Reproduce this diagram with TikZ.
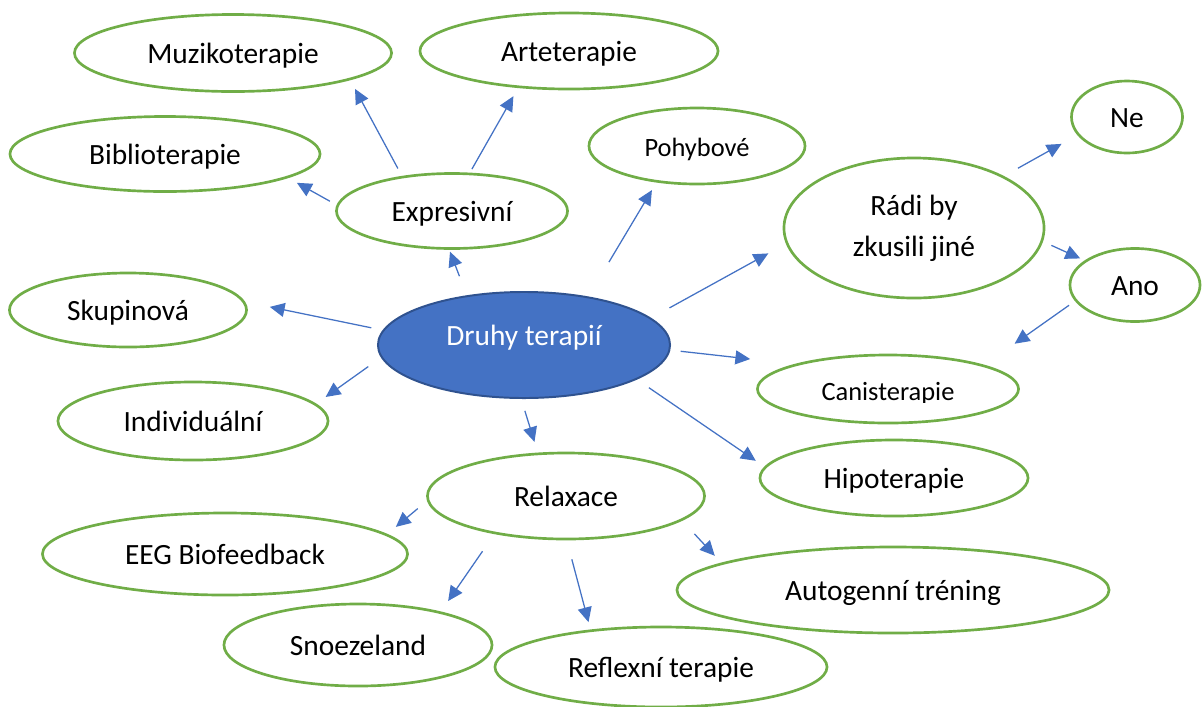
\documentclass[tikz,border=0pt]{standalone}
\usepackage{fontspec}
\setmainfont{Carlito}
\usepackage{tikz}
\usetikzlibrary{shapes,arrows.meta}
\definecolor{leafgreen}{HTML}{70AD47}
\definecolor{officeblue}{HTML}{4472C4}
\definecolor{darkblue}{HTML}{2F528F}

\begin{document}
\begin{tikzpicture}[
    x=0.025cm, y=-0.025cm,
    ring/.style={ellipse, draw=leafgreen, line width=1.9pt, inner sep=2pt, font=\fontsize{20.9}{29}\selectfont},
    bubble/.style={ring, text height=15.6pt, text depth=0pt},
    smalltext/.style={font=\fontsize{18.8}{24}\selectfont},
    arrow/.style={-{Triangle[length=0.37cm, width=0.35cm]}, officeblue, line width=0.9pt}
]
    \useasboundingbox (0,0) rectangle (1204,706);

    \node[ellipse, draw=darkblue, line width=1.4pt, fill=officeblue, text=white,
        font=\fontsize{20.9}{29}\selectfont, text height=6pt, text depth=6pt,
        minimum width=7.3cm, minimum height=2.65cm] (druhy) at (524,345) {Druhy terapií};

    % expresivni group
    \node[bubble, minimum width=5.775cm, minimum height=1.875cm] (expresivni) at (452,211) {Expresivní};
    \node[bubble, minimum width=7.925cm, minimum height=1.925cm] (muzik) at (233,53) {Muzikoterapie};
    \node[bubble, minimum width=7.45cm, minimum height=1.9cm] (arte) at (569,51) {Arteterapie};
    \node[bubble, minimum width=7.75cm, minimum height=1.875cm] (biblio) at (165,154) {Biblioterapie};

    \node[bubble, smalltext, minimum width=5.4cm, minimum height=1.9cm] (pohyb) at (697,146) {Pohybové};

    % would like to try others
    \node[ring, align=center, minimum width=6.5cm, minimum height=3.5cm] (radi) at (914,228) {Rádi by\\zkusili jiné};
    \node[bubble, minimum width=2.775cm, minimum height=1.8cm] (ne) at (1127,117) {Ne};
    \node[bubble, minimum width=3.25cm, minimum height=1.825cm] (ano) at (1135,285) {Ano};

    \node[bubble, minimum width=5.925cm, minimum height=1.85cm] (skupin) at (128,310) {Skupinová};
    \node[bubble, minimum width=6.75cm, minimum height=1.95cm] (indiv) at (193,421) {Individuální};

    \node[ring, minimum width=6.525cm, minimum height=1.7cm] (cani) at (888,389) {};
    \begin{scope}
        \clip (740,340) rectangle (1030,402.5);
        \node[smalltext, anchor=base, inner sep=0pt] (canitext) at ([yshift=-8.5pt]cani.center) {Canisterapie};
    \end{scope}
    \node[bubble, minimum width=6.7cm, minimum height=1.9cm] (hipo) at (894,478) {Hipoterapie};

    % relaxace group
    \node[bubble, minimum width=6.925cm, minimum height=2.15cm] (relax) at (566,496) {Relaxace};
    \node[bubble, minimum width=9.125cm, minimum height=2.05cm] (eeg) at (225,554) {EEG Biofeedback};
    \node[bubble, minimum width=6.7cm, minimum height=2.05cm] (snoez) at (358,645) {Snoezeland};
    \node[bubble, minimum width=8.3cm, minimum height=2.0cm] (reflex) at (661,667) {Reflexní terapie};
    \node[bubble, minimum width=10.8cm, minimum height=2.15cm] (autog) at (893,590) {Autogenní tréning};

    \draw[arrow, shorten <=0.21cm, shorten >=0.25cm] (expresivni.145) -- (muzik.-13);
    \draw[arrow, shorten <=0.1cm, shorten >=0.235cm] (expresivni.65) -- (arte.-144);
    \draw[arrow, shorten <=0.19cm, shorten >=0.25cm] (expresivni.177) -- (biblio.-11);
    \draw[arrow, shorten <=0.51cm, shorten >=0.05cm] (druhy.139) -- (expresivni.-94);
    \draw[arrow, shorten <=1.0cm, shorten >=0.22cm] (druhy.37) -- (pohyb.-138);
    \draw[arrow, shorten <=0.52cm, shorten >=0.5cm] (druhy.12) -- (radi.-173);
    \draw[arrow, shorten <=0.4cm, shorten >=0.45cm] (radi.30) -- (ne.-160);
    \draw[arrow, shorten <=0.23cm, shorten >=0.12cm] (radi.-6) -- (ano.154);
    \draw[arrow, shorten <=0.18cm, shorten >=0.92cm] (ano.-165) -- (cani.14);
    \draw[arrow, shorten <=0.29cm, shorten >=0.63cm] (druhy.174) -- (skupin.4);
    \draw[arrow, shorten <=0.39cm, shorten >=0.29cm] (druhy.-175) -- (indiv.8);
    \draw[arrow, shorten <=0.26cm, shorten >=1.12cm] (druhy.-2) -- (cani.165);
    \draw[arrow, shorten <=0.36cm, shorten >=0.26cm] (druhy.-17) -- (hipo.175);
    \draw[arrow, shorten <=0.31cm, shorten >=0.28cm] (druhy.-93) -- (relax.123);
    \draw[arrow, shorten <=0.3cm, shorten >=0.28cm] (relax.-178) -- (eeg.7);
    \draw[arrow, shorten <=0.52cm, shorten >=0.32cm] (relax.-152) -- (snoez.22);
    \draw[arrow, shorten <=0.49cm, shorten >=0.19cm] (relax.-89) -- (reflex.152);
    \draw[arrow, shorten <=0.45cm, shorten >=0.24cm] (relax.-12) -- (autog.171);
\end{tikzpicture}
\end{document}
